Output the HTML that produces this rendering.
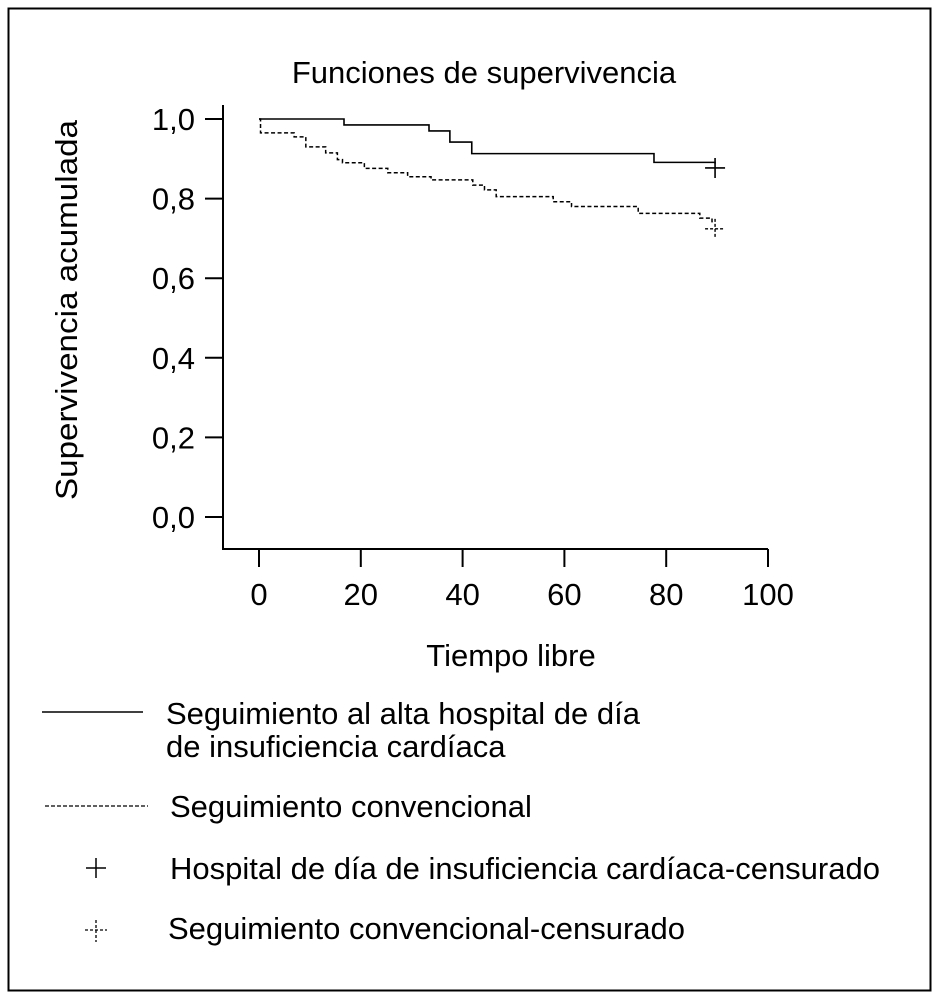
<!DOCTYPE html>
<html><head><meta charset="utf-8"><style>
body{margin:0;background:#fff;}
svg{display:block;font-family:"Liberation Sans",Arial,sans-serif;}
</style></head><body>
<svg width="939" height="999">
<rect x="8.5" y="8.5" width="922" height="982" fill="none" stroke="#000" stroke-width="2"/>
<text x="484" y="83" font-size="31" text-anchor="middle">Funciones de supervivencia</text>
<text transform="translate(77,310) rotate(-90)" font-size="31" text-anchor="middle" textLength="380" lengthAdjust="spacingAndGlyphs">Supervivencia acumulada</text>
<text x="511" y="666" font-size="31" text-anchor="middle">Tiempo libre</text>
<g id="axes"></g>
<g id="series"></g>
<g font-size="31">
<line x1="42" y1="712" x2="143" y2="712" stroke="#000" stroke-width="1.5"/>
<text x="166" y="724">Seguimiento al alta hospital de día</text>
<text x="166" y="757">de insuficiencia cardíaca</text>
<line x1="45" y1="806" x2="148" y2="806" stroke="#000" stroke-width="1.3" stroke-dasharray="4,2"/>
<text x="170" y="817">Seguimiento convencional</text>
<path d="M86 868h20M96 858v20" stroke="#000" stroke-width="1.5"/>
<text x="170" y="879">Hospital de día de insuficiencia cardíaca-censurado</text>
<path d="M85 930h22M96 920v22" stroke="#000" stroke-width="1.3" stroke-dasharray="3,2"/>
<text x="168" y="939">Seguimiento convencional-censurado</text>
</g>
</svg>
<script>
const xTicks=[0,20,40,60,80,100];
const yTicks=[0,0.2,0.4,0.6,0.8,1.0];
const yTickLabels=["0,0","0,2","0,4","0,6","0,8","1,0"];
const hospTimes=[0,16.7,33.4,37.5,41.8,77.6,89.6];
const hospSurv=[1.0,0.985,0.97,0.942,0.913,0.891,0.888];
const hospCensor=[89.6,0.877];
const convTimes=[0,0.3,6.9,9.2,13.1,15.4,16.4,20.7,25.3,29.2,33.8,42,44.3,46.6,57.8,61.4,74.5,86.6,89,89.6];
const convSurv=[1.0,0.965,0.955,0.93,0.915,0.898,0.89,0.876,0.865,0.855,0.847,0.834,0.822,0.805,0.792,0.78,0.763,0.751,0.742,0.742];
const convCensor=[89.6,0.724];
const X=t=>259+t*5.09, Y=s=>517-s*398;
const NS="http://www.w3.org/2000/svg";
function mk(tag,attrs,parent){const e=document.createElementNS(NS,tag);for(const k in attrs)e.setAttribute(k,attrs[k]);parent.appendChild(e);return e;}
const ax=document.getElementById('axes');
let a=mk('path',{d:'M223 105V549H768',fill:'none',stroke:'#000','stroke-width':2},ax);


yTicks.forEach((v,i)=>{
 const l=mk('line',{x1:205,x2:223,y1:Y(v),y2:Y(v),stroke:'#000','stroke-width':2},ax);
 
 
 const t=mk('text',{x:195,y:Y(v)+11,'font-size':31,'text-anchor':'end'},ax);t.textContent=yTickLabels[i];
 
 
});
xTicks.forEach(v=>{
 const l=mk('line',{x1:X(v),x2:X(v),y1:549,y2:567,stroke:'#000','stroke-width':2},ax);
 
 
 const t=mk('text',{x:X(v),y:605,'font-size':31,'text-anchor':'middle'},ax);t.textContent=String(v);
 
 
});
const sg=document.getElementById('series');
function step(ts,ss){let d='M'+X(ts[0])+' '+Y(ss[0]);for(let i=1;i<ts.length;i++){d+='H'+X(ts[i])+'V'+Y(ss[i]);}return d;}
let p=mk('path',{d:step(hospTimes,hospSurv),fill:'none',stroke:'#000','stroke-width':1.6},sg);


p=mk('path',{d:step(convTimes,convSurv),fill:'none',stroke:'#000','stroke-width':1.5,'stroke-dasharray':'4,2.5'},sg);


let cx=X(hospCensor[0]),cy=Y(hospCensor[1]);
p=mk('path',{d:`M${cx-10} ${cy}h20M${cx} ${cy-10}v20`,stroke:'#000','stroke-width':1.6},sg);


cx=X(convCensor[0]);cy=Y(convCensor[1]);
p=mk('path',{d:`M${cx-10} ${cy}h20M${cx} ${cy-10}v20`,stroke:'#000','stroke-width':1.4,'stroke-dasharray':'3,2'},sg);


</script>
</body></html>
